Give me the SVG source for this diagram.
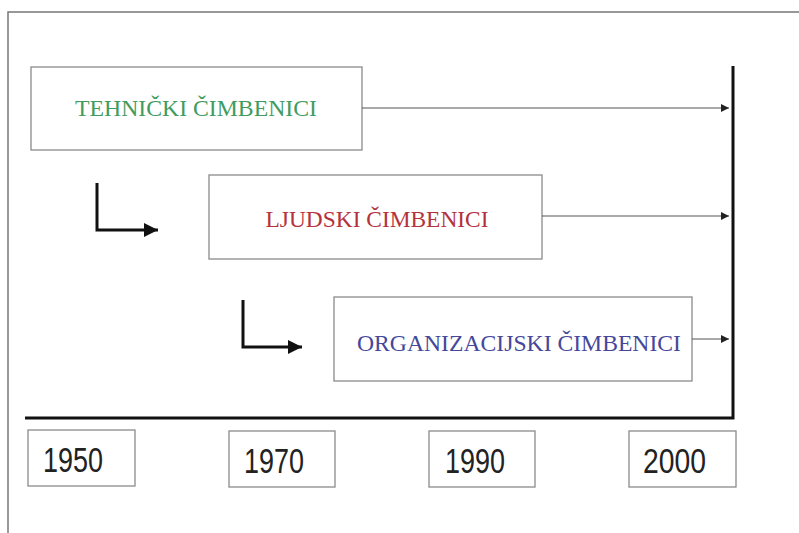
<svg xmlns="http://www.w3.org/2000/svg" width="799" height="533" viewBox="0 0 799 533">
<defs>
<style>
.box{fill:#fff;stroke:#8a8a8a;stroke-width:1.3}
.lbl{font-family:"Liberation Serif","Times New Roman",serif;font-size:23px;text-anchor:middle}
.yr{font-family:"Liberation Sans",Arial,sans-serif;font-size:35px;fill:#222}
.thin{stroke:#555;stroke-width:1.2;fill:none}
.thick{stroke:#111;stroke-width:3;fill:none}
</style>
<marker id="ah" viewBox="0 0 10 10" refX="10" refY="5" markerWidth="10" markerHeight="8" markerUnits="userSpaceOnUse" orient="auto">
<path d="M0,0 L10,5 L0,10 z" fill="#222"/>
</marker>
<marker id="ahb" viewBox="0 0 10 10" refX="10" refY="5" markerWidth="16" markerHeight="14" markerUnits="userSpaceOnUse" orient="auto">
<path d="M0,0 L10,5 L0,10 z" fill="#111"/>
</marker>
</defs>
<rect width="799" height="533" fill="#fff"/>
<path d="M8,533 V12 H799" fill="none" stroke="#777" stroke-width="1.5"/>
<g id="axis">
<path d="M733,66 V418 H25" fill="none" stroke="#111" stroke-width="3"/>
</g>
<g id="n-tehnicki">
<rect class="box" x="31" y="67" width="331" height="83"/>
<text class="lbl" x="196" y="116" fill="#3f9c5e" textLength="242" lengthAdjust="spacingAndGlyphs">TEHNIČKI ČIMBENICI</text>
</g>
<g id="n-ljudski">
<rect class="box" x="209" y="175" width="333" height="84"/>
<text class="lbl" x="377" y="227" fill="#b4323c" textLength="223" lengthAdjust="spacingAndGlyphs">LJUDSKI ČIMBENICI</text>
</g>
<g id="n-organizacijski">
<rect class="box" x="334" y="297" width="358" height="84"/>
<text class="lbl" x="519" y="351" fill="#45479a" textLength="324" lengthAdjust="spacingAndGlyphs">ORGANIZACIJSKI ČIMBENICI</text>
</g>
<g id="y1950"><rect class="box" x="28" y="430" width="107" height="56"/><text class="yr" x="43" y="472" textLength="60" lengthAdjust="spacingAndGlyphs">1950</text></g>
<g id="y1970"><rect class="box" x="229" y="431" width="106" height="56"/><text class="yr" x="244" y="473" textLength="60" lengthAdjust="spacingAndGlyphs">1970</text></g>
<g id="y1990"><rect class="box" x="429" y="431" width="106" height="56"/><text class="yr" x="445" y="473" textLength="60" lengthAdjust="spacingAndGlyphs">1990</text></g>
<g id="y2000"><rect class="box" x="629" y="431" width="107" height="56"/><text class="yr" x="643" y="473" textLength="63" lengthAdjust="spacingAndGlyphs">2000</text></g>
<g id="connectors">
<line class="thin" x1="362" y1="108" x2="729" y2="108" marker-end="url(#ah)"/>
<line class="thin" x1="542" y1="216" x2="729" y2="216" marker-end="url(#ah)"/>
<line class="thin" x1="692" y1="339" x2="729" y2="339" marker-end="url(#ah)"/>
<path class="thick" d="M97,183 V230 H158" marker-end="url(#ahb)"/>
<path class="thick" d="M243,300 V347 H302" marker-end="url(#ahb)"/>
</g>
</svg>
